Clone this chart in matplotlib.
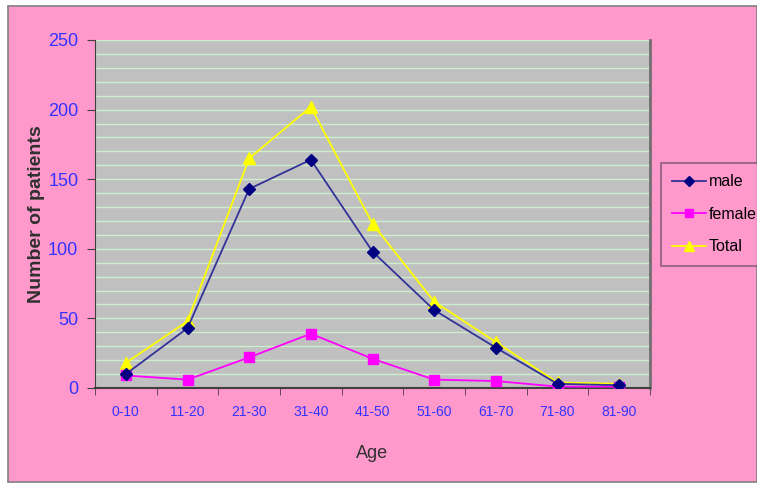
import numpy as np
import matplotlib.pyplot as plt
from matplotlib.patches import Rectangle

plt.rcParams['font.family'] = ['Liberation Sans', 'DejaVu Sans']

# tranches d'age et effectifs
age_groups = ["0-10", "11-20", "21-30", "31-40", "41-50", "51-60", "61-70", "71-80", "81-90"]
male = [10, 43, 143, 164, 98, 56, 29, 3, 2]
female = [9, 6, 22, 39, 21, 6, 5, 1, 1]
total = [18, 48, 165, 202, 118, 62, 33, 4, 3]

W, H = 757, 484
fig = plt.figure(figsize=(W / 100, H / 100), dpi=100, facecolor="white")

# fond rose du graphique
fig.patches.append(Rectangle((8 / W, 2 / H), 1 - 8 / W, (H - 8) / H,
                             transform=fig.transFigure, facecolor="#FF99CC",
                             edgecolor="#808080", linewidth=1.2, zorder=-10))

ax = fig.add_axes([95 / W, (H - 388) / H, (650 - 95) / W, (388 - 40) / H])
ax.set_facecolor("#C0C0C0")

x = np.arange(len(age_groups))
ax.plot(x, male, color="#333399", marker="D", markersize=6, markerfacecolor="#000080",
        markeredgecolor="#000080", linewidth=1.3, label="male", zorder=4)
ax.plot(x, female, color="#FF00FF", marker="s", markersize=7, linewidth=1.3, label="female", zorder=3)
ax.plot(x, total, color="#FFFF00", marker="^", markersize=8, linewidth=1.3, label="Total", zorder=2)

ax.set_xlim(-0.5, len(age_groups) - 0.5)
ax.set_ylim(0, 250)
ax.set_yticks(np.arange(0, 251, 50))
ax.set_yticks(np.arange(0, 251, 10), minor=True)
ax.yaxis.grid(True, which="both", color="#CCEECC", linewidth=1.0)
ax.set_axisbelow(True)

ax.set_xticks(x)
ax.set_xticklabels(age_groups)
ax.set_xticks(np.arange(-0.5, len(age_groups), 1), minor=True)
ax.tick_params(axis="x", which="major", length=0, pad=12, labelsize=10, labelcolor="#3333FF")
ax.tick_params(axis="x", which="minor", length=5, direction="out", color="#404040")
ax.tick_params(axis="y", which="major", length=6, direction="out", color="#404040",
               labelsize=13, labelcolor="#3333FF", pad=6)
ax.tick_params(axis="y", which="minor", length=0)

for side in ["left", "bottom"]:
    ax.spines[side].set_color("#404040")
ax.spines["right"].set_color("#707070")
ax.spines["right"].set_linewidth(2)
ax.spines["top"].set_visible(False)
ax.spines["bottom"].set_linewidth(1.5)

ax.set_xlabel("Age", fontsize=13, color="#303030", labelpad=19)
ax.set_ylabel("Number of patients", fontsize=14, color="#303030", labelpad=2,
              fontweight="bold")

leg = fig.legend(loc="upper left", bbox_to_anchor=(661 / W, (H - 163) / H),
                 frameon=True, fontsize=11.5, handlelength=2.1, borderpad=0.7,
                 labelspacing=1.1, handletextpad=0.2, borderaxespad=0,
                 fancybox=False, markerscale=0.85)
leg.get_frame().set_facecolor("#FF99CC")
leg.get_frame().set_edgecolor("#705070")
leg.get_frame().set_linewidth(1.2)

fig.savefig("out.png", dpi=100, facecolor=fig.get_facecolor())
